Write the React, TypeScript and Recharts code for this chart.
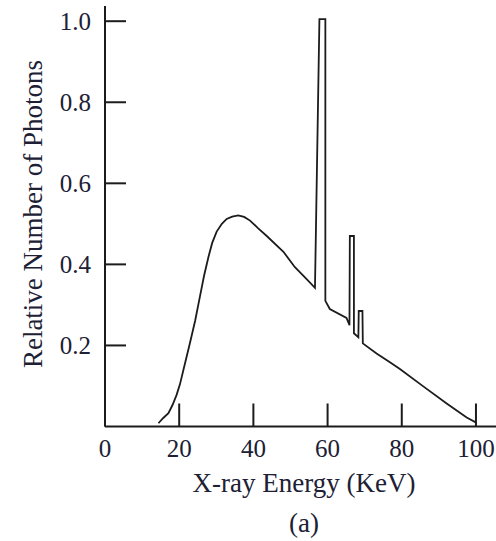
import { LineChart, Line, XAxis, YAxis } from "recharts";

// spectrum (keV, relative photon count)
const energy = [
  14.4, 15.7, 17.1, 18.2, 19.3, 20.2, 21.1, 22.0, 22.9, 24.3, 25.6, 26.7, 27.9, 28.9, 30.1, 31.5,
  32.8, 34.3, 35.9, 37.5, 39.1, 41.3, 43.6, 48.1, 51.2, 53.9, 56.6,
  57.8, 59.4, 59.4, 60.6, 65.1, 65.9, 66.0, 67.1, 67.1, 68.3, 68.4, 69.4, 69.5,
  73.2, 76.4, 79.5, 85.8, 92.1, 97.5, 100.2,
];
const photons = [
  0.008, 0.021, 0.033, 0.053, 0.078, 0.104, 0.138, 0.172, 0.206, 0.261, 0.321, 0.372, 0.419, 0.453, 0.481, 0.5,
  0.512, 0.518, 0.521, 0.517, 0.508, 0.489, 0.47, 0.431, 0.393, 0.368, 0.342,
  1.005, 1.005, 0.31, 0.29, 0.268, 0.25, 0.47, 0.47, 0.23, 0.22, 0.285, 0.285, 0.205,
  0.18, 0.161, 0.142, 0.099, 0.057, 0.022, 0.009,
];

const xTicks = [0, 20, 40, 60, 80, 100];
const yTicks = [0.2, 0.4, 0.6, 0.8, 1.0];

const data = energy.map((e, i) => ({ energy: e, photons: photons[i] }));

const ink = "#1c1c1c";
const textColor = "#202034";
const font = "'Liberation Serif', 'DejaVu Serif', serif";

export default function App() {
  return (
    <div style={{ position: "absolute", left: 0, top: 0, width: 496, height: 541, background: "#fff" }}>
      <LineChart width={496} height={541} data={data} margin={{ top: 6, right: 0, bottom: 0, left: 0 }}>
        <XAxis
          dataKey="energy"
          type="number"
          domain={[0, 105.4]}
          ticks={xTicks}
          interval={0}
          height={114.5}
          axisLine={{ stroke: ink, strokeWidth: 2 }}
          tickLine={{ stroke: ink, strokeWidth: 2 }}
          tickSize={-23}
          tickMargin={36}
          tick={{ fill: textColor, fontSize: 25, fontFamily: font }}
          label={{
            content: () => (
              <g fill={textColor} fontFamily={font} fontSize={27} textAnchor="middle">
                <text x={304} y={492}>X-ray Energy (KeV)</text>
                <text x={304} y={532}>(a)</text>
              </g>
            ),
          }}
        />
        <YAxis
          type="number"
          domain={[0, 1.0375]}
          ticks={yTicks}
          interval={0}
          width={105}
          tickFormatter={(v: number) => v.toFixed(1)}
          axisLine={{ stroke: ink, strokeWidth: 2 }}
          tickLine={{ stroke: ink, strokeWidth: 2 }}
          tickSize={-21}
          tickMargin={35}
          tick={{ fill: textColor, fontSize: 25, fontFamily: font }}
          label={{
            content: () => (
              <text
                x={42}
                y={214}
                transform="rotate(-90, 42, 214)"
                textAnchor="middle"
                fill={textColor}
                fontFamily={font}
                fontSize={27}
              >
                Relative Number of Photons
              </text>
            ),
          }}
        />
        <Line
          dataKey="photons"
          type="linear"
          dot={false}
          stroke={ink}
          strokeWidth={1.8}
          isAnimationActive={false}
        />
      </LineChart>
    </div>
  );
}
